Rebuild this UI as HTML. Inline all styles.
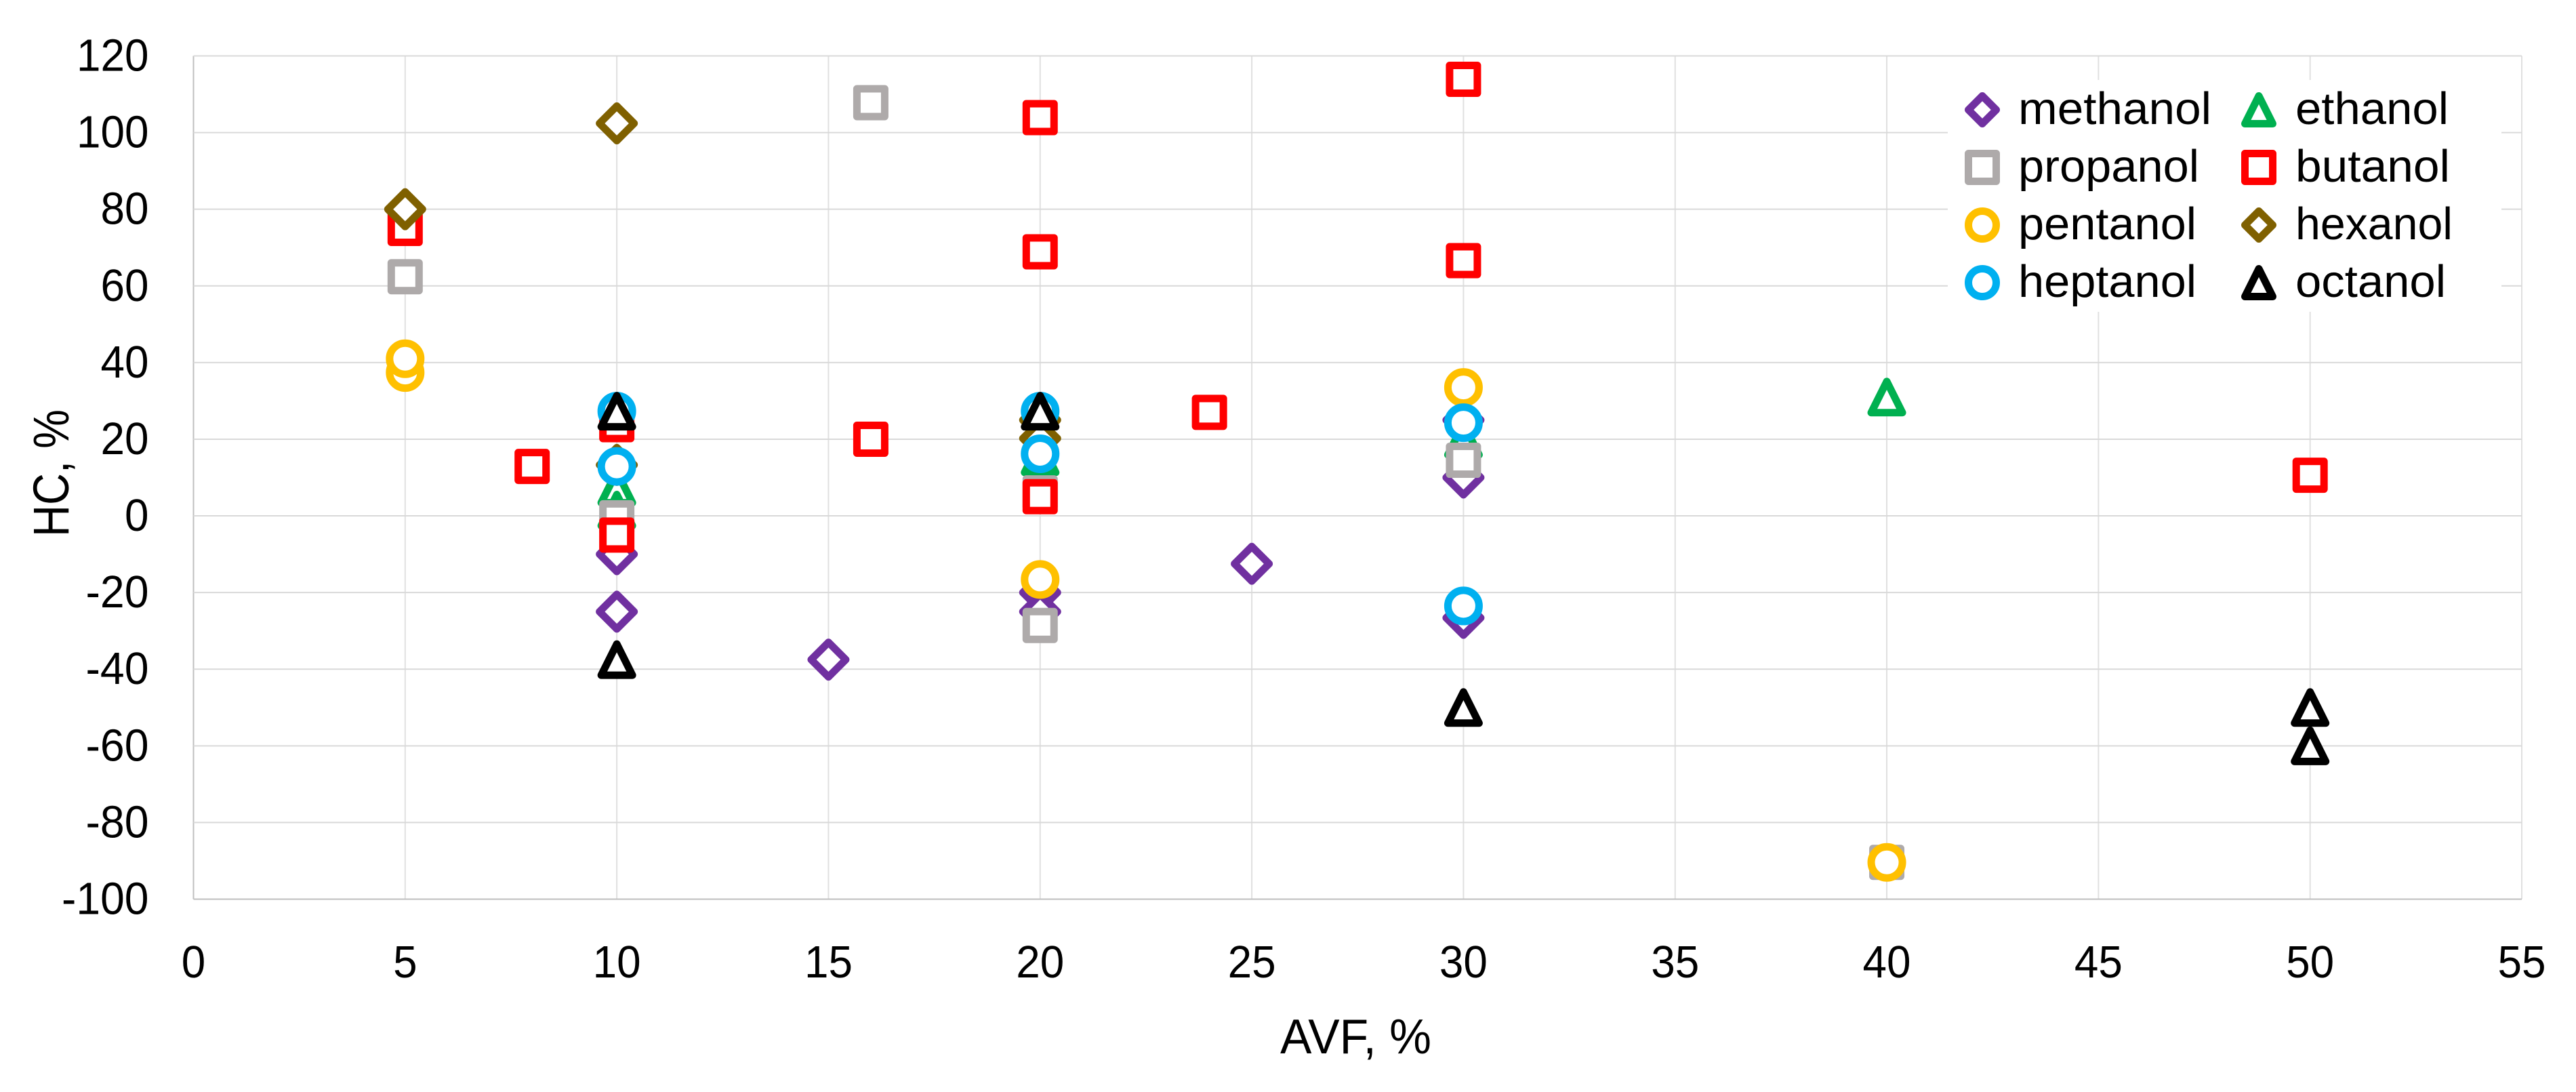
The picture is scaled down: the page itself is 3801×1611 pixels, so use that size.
<!DOCTYPE html>
<html lang="en">
<head>
<meta charset="utf-8">
<title>HC vs AVF scatter chart</title>
<style>
html,body{margin:0;padding:0;background:#fff;width:3801px;height:1611px;overflow:hidden}
svg{display:block}
text{font-family:"Liberation Sans",sans-serif;fill:#000}
</style>
</head>
<body>
<svg id="chart" xmlns="http://www.w3.org/2000/svg" width="3801" height="1611" viewBox="0 0 3801 1611">
  <rect x="0" y="0" width="3801" height="1611" fill="#fff"/>
  <g id="grid"></g>
  <g id="xticks"></g>
  <g id="yticks"></g>
  <g id="marks"></g>
  <text x="1889" y="1554" font-size="72" textLength="223" lengthAdjust="spacingAndGlyphs">AVF, %</text>
  <text transform="translate(101,792) rotate(-90)" font-size="74" textLength="188" lengthAdjust="spacingAndGlyphs">HC, %</text>
  <g id="legend">
    <rect x="2874" y="118" width="817" height="342" fill="#fff"/>
    <g id="legend-markers"></g>
    <g font-size="67">
      <text x="2978" y="183" textLength="285" lengthAdjust="spacingAndGlyphs">methanol</text>
      <text x="3387" y="183" textLength="226" lengthAdjust="spacingAndGlyphs">ethanol</text>
      <text x="2978" y="268" textLength="267" lengthAdjust="spacingAndGlyphs">propanol</text>
      <text x="3387" y="268" textLength="228" lengthAdjust="spacingAndGlyphs">butanol</text>
      <text x="2978" y="353" textLength="263" lengthAdjust="spacingAndGlyphs">pentanol</text>
      <text x="3387" y="353" textLength="232" lengthAdjust="spacingAndGlyphs">hexanol</text>
      <text x="2978" y="438" textLength="263" lengthAdjust="spacingAndGlyphs">heptanol</text>
      <text x="3387" y="438" textLength="222" lengthAdjust="spacingAndGlyphs">octanol</text>
    </g>
  </g>
</svg>
<script>
const xTickValues = [0, 5, 10, 15, 20, 25, 30, 35, 40, 45, 50, 55];
const yTickValues = [120, 100, 80, 60, 40, 20, 0, -20, -40, -60, -80, -100];

const methanolX = [10, 10, 15, 20, 20, 25, 30, 30, 30];
const methanolY = [-10, -25, -37.5, -20, -25, -12.5, 25, 10, -26.6];
const ethanolX = [10, 10, 20, 30, 40];
const ethanolY = [7.5, 1.5, 15.4, 20, 31];
const propanolX = [5, 10, 16, 20, 20, 30, 40];
const propanolY = [62.4, -0.5, 107.8, 6, -28.6, 14.5, -90.4];
const butanolX = [5, 8, 10, 10, 16, 20, 20, 20, 24, 30, 30, 50];
const butanolY = [75, 12.9, 23.8, -5, 20, 103.9, 68.9, 5, 27, 113.9, 66.6, 10.6];
const pentanolX = [5, 5, 20, 30, 40];
const pentanolY = [37.4, 41, -16.6, 33.5, -90.4];
const hexanolX = [5, 10, 10, 20, 20];
const hexanolY = [80, 102.4, 13.3, 25, 20.2];
const heptanolX = [10, 10, 20, 20, 30, 30];
const heptanolY = [27.3, 12.9, 27.3, 16.2, 24.3, -23.5];
const octanolX = [10, 10, 20, 30, 50, 50];
const octanolY = [27.3, -37.5, 27.3, -50, -50, -60];

const NS = 'http://www.w3.org/2000/svg';
const plotLeft = 285.5, plotRight = 3721, plotTop = 82.5, plotBottom = 1326.5;
const xMin = 0, xMax = 55, yMin = -100, yMax = 120;
function xScale(v) { return plotLeft + (v - xMin) / (xMax - xMin) * (plotRight - plotLeft); }
function yScale(v) { return plotBottom - (v - yMin) / (yMax - yMin) * (plotBottom - plotTop); }
function tickLabelWidth(v) {
  const digits = String(Math.abs(v)).length;
  return digits * 35.5 + (v < 0 ? 22 : 0);
}

const seriesList = [
  { name: 'methanol', xs: methanolX, ys: methanolY, shape: 'diamond', color: '#7030a0' },
  { name: 'ethanol', xs: ethanolX, ys: ethanolY, shape: 'triangle', color: '#00b050' },
  { name: 'propanol', xs: propanolX, ys: propanolY, shape: 'square', color: '#aeaaaa' },
  { name: 'butanol', xs: butanolX, ys: butanolY, shape: 'square', color: '#ff0000' },
  { name: 'pentanol', xs: pentanolX, ys: pentanolY, shape: 'circle', color: '#ffc000' },
  { name: 'hexanol', xs: hexanolX, ys: hexanolY, shape: 'diamond', color: '#7f6000' },
  { name: 'heptanol', xs: heptanolX, ys: heptanolY, shape: 'circle', color: '#00b0f0' },
  { name: 'octanol', xs: octanolX, ys: octanolY, shape: 'triangle', color: '#000000' }
];

function makeMarker(shape, cx, cy, color, big) {
  let el;
  if (shape === 'circle') {
    el = document.createElementNS(NS, 'circle');
    el.setAttribute('cx', cx);
    el.setAttribute('cy', cy);
    el.setAttribute('r', big ? 23 : 20.5);
  } else {
    el = document.createElementNS(NS, 'polygon');
    let pts;
    if (shape === 'diamond') {
      const d = big ? 25.5 : 20.5;
      pts = [[0, -d], [d, 0], [0, d], [-d, 0]];
    } else if (shape === 'triangle') {
      const t = big ? 23 : 20.5;
      pts = [[0, -t], [t, t], [-t, t]];
    } else {
      const s = 20.5;
      pts = [[-s, -s], [s, -s], [s, s], [-s, s]];
    }
    el.setAttribute('points', pts.map(function (p) { return (cx + p[0]) + ',' + (cy + p[1]); }).join(' '));
  }
  el.setAttribute('fill', '#fff');
  el.setAttribute('stroke', color);
  el.setAttribute('stroke-width', 11);
  el.setAttribute('stroke-linejoin', 'round');
  return el;
}

function makeLine(x1, y1, x2, y2, color, width) {
  const l = document.createElementNS(NS, 'line');
  l.setAttribute('x1', x1);
  l.setAttribute('y1', y1);
  l.setAttribute('x2', x2);
  l.setAttribute('y2', y2);
  l.setAttribute('stroke', color);
  l.setAttribute('stroke-width', width);
  return l;
}

const gridGroup = document.getElementById('grid');
xTickValues.forEach(function (v) {
  const isFrame = v === xMin;
  const line = makeLine(xScale(v), plotTop, xScale(v), plotBottom, isFrame ? '#bfbfbf' : '#e0e0e0', 2);
  
  
  gridGroup.appendChild(line);
});
yTickValues.forEach(function (v) {
  const isAxis = v === yMin;
  const line = makeLine(plotLeft, yScale(v), plotRight, yScale(v), isAxis ? '#bfbfbf' : '#d9d9d9', 2);
  
  
  gridGroup.appendChild(line);
});

const xTickGroup = document.getElementById('xticks');
xTickValues.forEach(function (v) {
  const t = document.createElementNS(NS, 'text');
  t.setAttribute('x', xScale(v));
  t.setAttribute('y', 1442);
  t.setAttribute('font-size', 67);
  t.setAttribute('text-anchor', 'middle');
  t.setAttribute('textLength', tickLabelWidth(v));
  t.setAttribute('lengthAdjust', 'spacingAndGlyphs');
  
  
  t.textContent = v;
  xTickGroup.appendChild(t);
});

const yTickGroup = document.getElementById('yticks');
yTickValues.forEach(function (v) {
  const t = document.createElementNS(NS, 'text');
  t.setAttribute('x', 219.5);
  t.setAttribute('y', yScale(v) + 22);
  t.setAttribute('font-size', 67);
  t.setAttribute('text-anchor', 'end');
  t.setAttribute('textLength', tickLabelWidth(v));
  t.setAttribute('lengthAdjust', 'spacingAndGlyphs');
  
  
  t.textContent = v;
  yTickGroup.appendChild(t);
});

const marksGroup = document.getElementById('marks');
seriesList.forEach(function (s) {
  s.xs.forEach(function (xv, i) {
    const m = makeMarker(s.shape, xScale(xv), yScale(s.ys[i]), s.color, true);
    
    
    marksGroup.appendChild(m);
  });
});

const legendGroup = document.getElementById('legend-markers');
const legendColumns = [2925, 3333];
const legendRows = [162, 247, 332, 417];
seriesList.forEach(function (s, i) {
  const m = makeMarker(s.shape, legendColumns[i % 2], legendRows[Math.floor(i / 2)], s.color, false);
  
  
  legendGroup.appendChild(m);
});
</script>
</body>
</html>
